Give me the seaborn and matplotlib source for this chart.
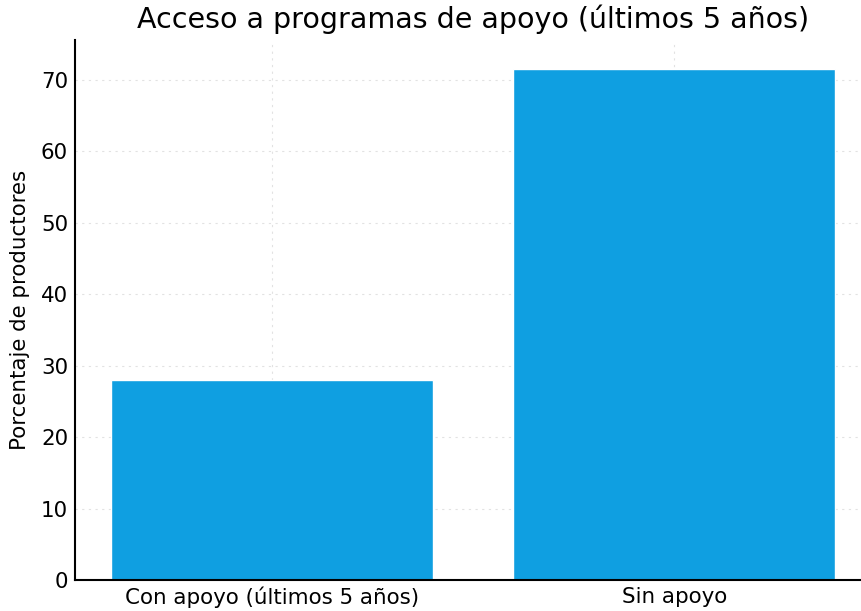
import matplotlib
matplotlib.use("Agg")
import matplotlib.pyplot as plt
import seaborn as sns
import pandas as pd

categories = ["Con apoyo (últimos 5 años)", "Sin apoyo"]
values = [28, 71.6]
title = "Acceso a programas de apoyo (últimos 5 años)"
ylabel = "Porcentaje de productores"

df = pd.DataFrame({"cat": categories, "val": values})

sns.set_theme(style="white")
plt.rcParams["font.family"] = ["DejaVu Sans"]

fig = plt.figure(figsize=(8.61, 6.11), dpi=100)
ax = fig.add_axes([75 / 861, 31 / 611, 796.5 / 861, 540 / 611])

sns.barplot(data=df, x="cat", y="val", color="#0f9fe1", saturation=1,
            width=0.8, ax=ax, zorder=2)
ax.set_xlim(-0.49, 1.49)
ax.set_ylim(0, 75.6)
ax.set_yticks(range(0, 71, 10))
ax.grid(True, linestyle=(0, (2, 4)), color="#e2e2e2", linewidth=0.8, zorder=0)
ax.set_axisbelow(True)
for s in ["top", "right"]:
    ax.spines[s].set_visible(False)
for s in ["left", "bottom"]:
    ax.spines[s].set_color("black")
    ax.spines[s].set_linewidth(1.5)
ax.tick_params(direction="in", length=4, width=1, colors="black",
               labelsize=15.4, pad=5)
ax.set_xlabel("")
ax.set_ylabel(ylabel, fontsize=15.4, color="black", labelpad=8)
ax.set_title(title, fontsize=20.5, pad=9, color="black")

fig.savefig("out.png", dpi=100, facecolor="white")
